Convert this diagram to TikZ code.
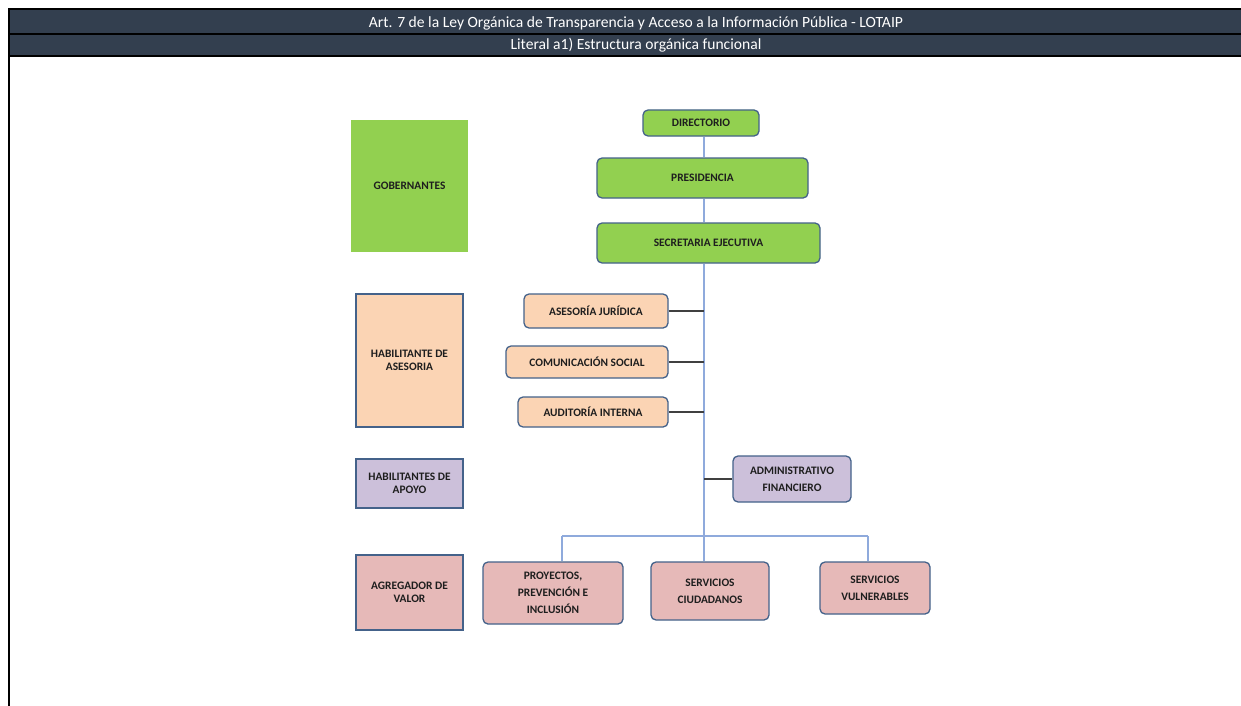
\documentclass[tikz,border=0pt]{standalone}
\usepackage{fontspec}
\setmainfont{Carlito}
\definecolor{hdr}{HTML}{333F4F}
\definecolor{gov}{HTML}{92D050}
\definecolor{ase}{HTML}{FBD4B4}
\definecolor{apo}{HTML}{CCC0DA}
\definecolor{agr}{HTML}{E6B9B8}
\definecolor{brd}{HTML}{44628A}
\definecolor{trk}{HTML}{8FAADC}
\definecolor{sid}{HTML}{404040}
\definecolor{txt}{HTML}{1E1E1E}
\tikzset{
  unit/.style={draw=brd, line width=1.3pt, rounded corners=5pt, inner sep=0pt, align=center,
    text=txt, font=\bfseries\fontsize{11.4}{13}\selectfont},
  level/.style={draw=brd, line width=1.3pt, inner sep=0pt, align=center,
    text=txt, font=\bfseries\fontsize{11.4}{13}\selectfont},
  tall/.style={font=\bfseries\fontsize{11.4}{17}\selectfont},
  trunkline/.style={draw=trk, line width=1.3pt},
  sideline/.style={draw=sid, line width=1.3pt},
  hdrtext/.style={text=white, font=\fontsize{15.6}{17}\selectfont}
}
\begin{document}
\begin{tikzpicture}[x=1pt,y=-1pt]
\useasboundingbox (0,0) rectangle (1241,706);
\fill[white] (0,0) rectangle (1241,706);
% header
\fill[hdr] (8,9) rectangle (1241,56);
\draw[black, line width=1.8pt] (8,9) -- (1241,9);
\draw[black, line width=1.8pt] (8,34) -- (1241,34);
\draw[black, line width=1.8pt] (8,56) -- (1241,56);
\draw[black, line width=2pt] (9,9) -- (9,706);
\node[hdrtext] (h1) at (636,23) {Art. 7 de la Ley Orgánica de Transparencia y Acceso a la Información Pública - LOTAIP};
\node[hdrtext] (h2) at (636,45) {Literal a1) Estructura orgánica funcional};
% level boxes
\node[level, draw=none, fill=gov, minimum width=117pt, minimum height=132pt] (gob) at (409.5,186) {GOBERNANTES};
\node[level, fill=ase, minimum width=107pt, minimum height=133pt] (hase) at (409.5,360.5) {HABILITANTE DE\\ASESORIA};
\node[level, fill=apo, minimum width=107pt, minimum height=49pt] (hapo) at (409.5,483.5) {HABILITANTES DE\\APOYO};
\node[level, fill=agr, minimum width=107pt, minimum height=75pt] (agv) at (409.5,592.5) {AGREGADOR DE\\VALOR};
% units
\node[unit, fill=gov, minimum width=116pt, minimum height=26pt] (dir) at (701,123) {DIRECTORIO};
\node[unit, fill=gov, minimum width=211pt, minimum height=40pt] (pres) at (702.5,178) {PRESIDENCIA};
\node[unit, fill=gov, minimum width=223pt, minimum height=40pt] (sec) at (708.5,243) {SECRETARIA EJECUTIVA};
\node[unit, fill=ase, minimum width=144pt, minimum height=34pt] (aj) at (596,311) {ASESORÍA JURÍDICA};
\node[unit, fill=ase, minimum width=162pt, minimum height=32pt] (cs) at (587,362) {COMUNICACIÓN SOCIAL};
\node[unit, fill=ase, minimum width=150pt, minimum height=30pt] (ai) at (593,412) {AUDITORÍA INTERNA};
\node[unit, tall, fill=apo, minimum width=118pt, minimum height=46pt] (adm) at (792,479) {ADMINISTRATIVO\\FINANCIERO};
\node[unit, tall, fill=agr, minimum width=140pt, minimum height=62pt] (proy) at (553,593) {PROYECTOS,\\PREVENCIÓN E\\INCLUSIÓN};
\node[unit, tall, fill=agr, minimum width=118pt, minimum height=58pt] (serc) at (710,591) {SERVICIOS\\CIUDADANOS};
\node[unit, tall, fill=agr, minimum width=110pt, minimum height=52pt] (serv) at (875,588) {SERVICIOS\\VULNERABLES};
% connectors
\coordinate (trunk) at (704,0);
\coordinate (pl) at (562,536);
\coordinate (pr) at (868,536);
\draw[trunkline] (dir.south -| trunk) -- (pres.north -| trunk);
\draw[trunkline] (pres.south -| trunk) -- (sec.north -| trunk);
\draw[trunkline] (sec.south -| trunk) -- (serc.north -| trunk);
\draw[trunkline] (pl) -- (pr);
\draw[trunkline] (pl) -- (pl |- proy.north);
\draw[trunkline] (pr) -- (pr |- serv.north);
\draw[sideline] (aj.east) -- (aj.east -| trunk);
\draw[sideline] (cs.east) -- (cs.east -| trunk);
\draw[sideline] (ai.east) -- (ai.east -| trunk);
\draw[sideline] (adm.west) -- (adm.west -| trunk);
\end{tikzpicture}
\end{document}
